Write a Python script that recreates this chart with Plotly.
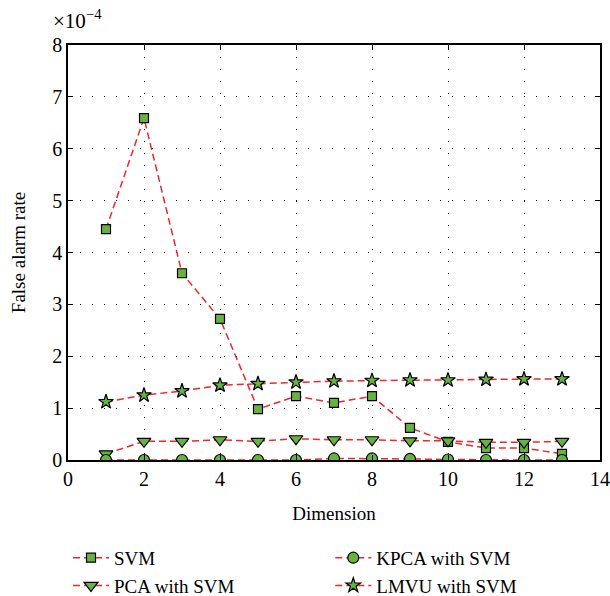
import plotly.graph_objects as go

dims = list(range(1, 14))
# values in units of 1e-4
svm = [4.45, 6.59, 3.60, 2.72, 0.98, 1.23, 1.10, 1.23, 0.62, 0.35, 0.23, 0.23, 0.12]
pca = [0.12, 0.36, 0.36, 0.39, 0.36, 0.41, 0.39, 0.39, 0.37, 0.37, 0.34, 0.34, 0.36]
kpca = [0.0, 0.0, 0.0, 0.0, 0.0, 0.0, 0.03, 0.03, 0.02, 0.01, 0.0, 0.0, 0.0]
lmvu = [1.12, 1.25, 1.33, 1.44, 1.47, 1.50, 1.52, 1.53, 1.54, 1.54, 1.55, 1.56, 1.56]
xticks = [0, 2, 4, 6, 8, 10, 12, 14]
yticks = [0, 1, 2, 3, 4, 5, 6, 7, 8]

LINE = "#f0282c"
FILL = "#66b43f"
FONT = "Liberation Serif"

series = [
    ("SVM", svm, "square", 9, "legend"),
    ("PCA with SVM", pca, "triangle-down", 12, "legend"),
    ("KPCA with SVM", kpca, "circle", 11, "legend2"),
    ("LMVU with SVM", lmvu, "star", 11, "legend2"),
]

fig = go.Figure()
for name, vals, sym, sz, lg in series:
    fig.add_trace(go.Scatter(
        x=dims, y=vals, name=name, mode="lines+markers", legend=lg,
        line=dict(color=LINE, width=1.5, dash="7px,4px"),
        marker=dict(symbol=sym, size=sz, color=FILL, line=dict(color="black", width=1.2)),
    ))

axis_common = dict(
    showline=True, linecolor="black", linewidth=1.5, mirror="ticks",
    ticks="inside", ticklen=5, tickcolor="black", tickwidth=1,
    showgrid=True, gridcolor="black", gridwidth=1, griddash="1px,11px",
    zeroline=False, tickfont=dict(family=FONT, size=20, color="black"),
)

fig.update_xaxes(range=[0, 14], tickvals=xticks, ticktext=[str(t) for t in xticks],
                 title=dict(text="Dimension", font=dict(family=FONT, size=19, color="black"), standoff=18),
                 **axis_common)
fig.update_yaxes(range=[0, 8], tickvals=yticks, ticktext=[str(t) for t in yticks],
                 title=dict(text="False alarm rate", font=dict(family=FONT, size=19, color="black"), standoff=22),
                 **axis_common)

fig.add_annotation(xref="paper", yref="paper", x=-0.032, y=1.0, xanchor="left", yanchor="bottom",
                   yshift=10, showarrow=False, text="×10<sup>−4</sup>",
                   font=dict(family=FONT, size=21, color="black"))

leg_common = dict(orientation="v", yanchor="top", y=-0.19, xanchor="left",
                  tracegroupgap=0, itemwidth=36,
                  font=dict(family=FONT, size=19, color="black"), bgcolor="rgba(0,0,0,0)")

fig.update_layout(
    width=610, height=596,
    margin=dict(l=68, r=10, t=45, b=136, autoexpand=False),
    plot_bgcolor="white", paper_bgcolor="white",
    font=dict(family=FONT, size=19, color="black"),
    legend=dict(x=0.0, **leg_common),
    legend2=dict(x=0.493, **leg_common),
)

fig.write_html("out.html")
